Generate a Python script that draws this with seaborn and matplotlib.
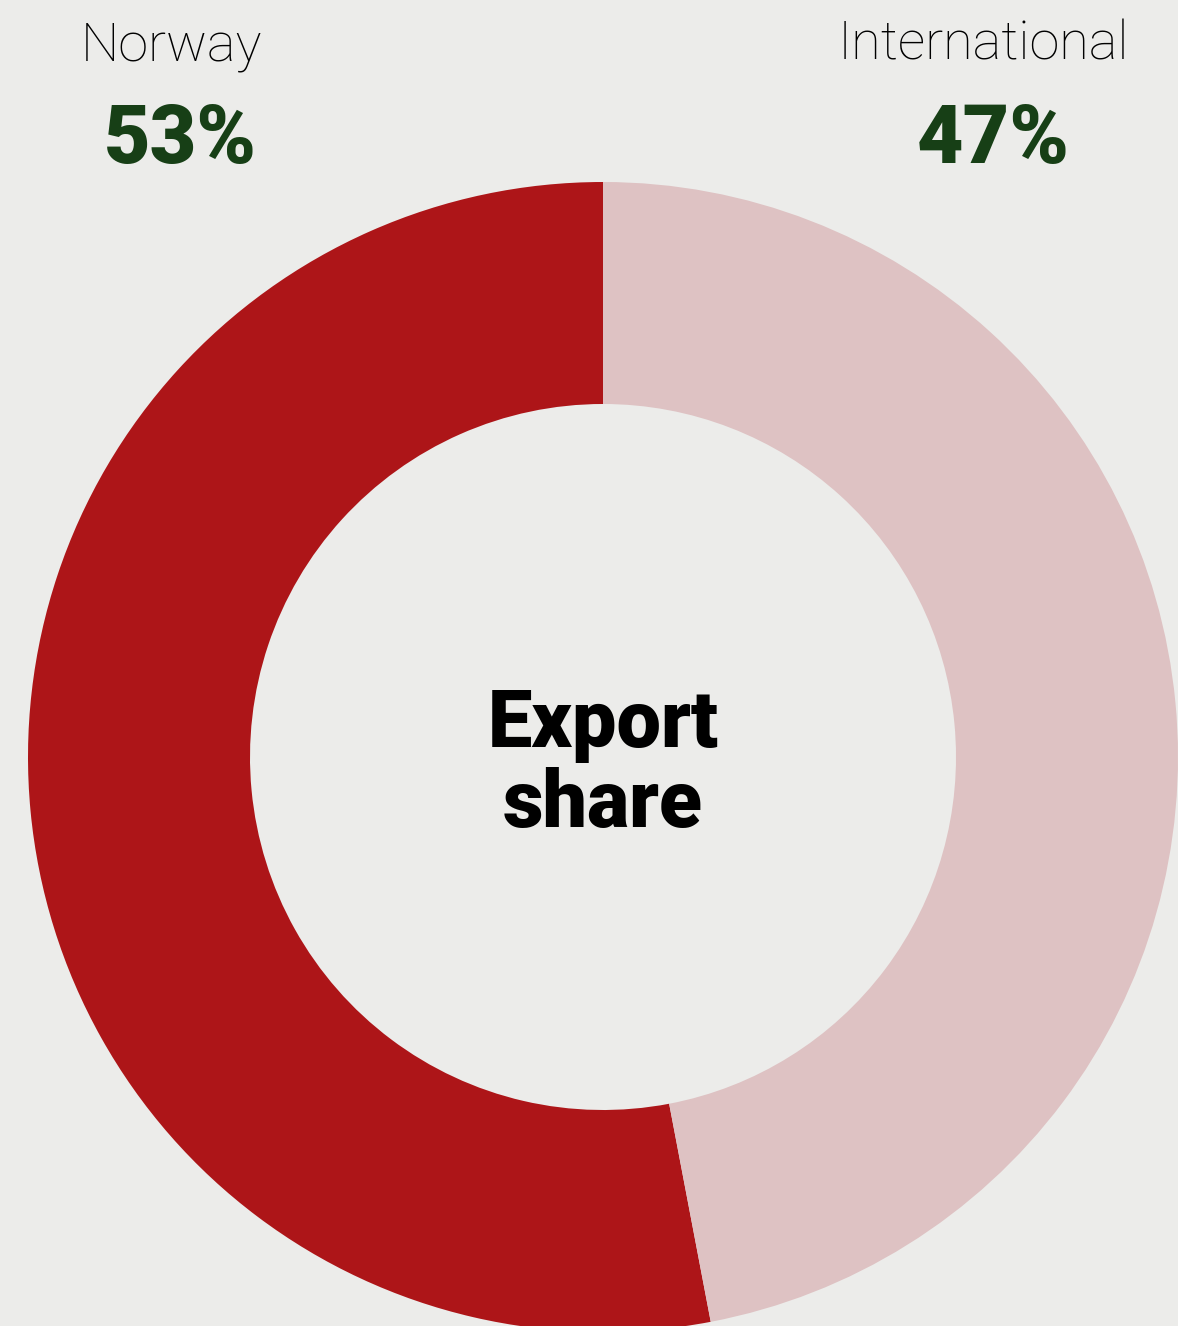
import matplotlib
matplotlib.use("Agg")
import matplotlib.pyplot as plt
import seaborn as sns

# Export share by market
categories = ["Norway", "International"]
shares = [53, 47]
share_labels = ["53%", "47%"]
centre_lines = ["Export", "share"]

BG = "#ECECEA"
RING_COLORS = ["#AD1518", "#DEC2C3"]
PCT_COLOR = "#173F16"

sns.set_theme(style="white")
plt.rcParams["font.family"] = ["Roboto", "DejaVu Sans"]

W, H = 1178, 1326
fig = plt.figure(figsize=(W / 100, H / 100), dpi=100, facecolor=BG)

# Donut: centre (603, 757) px, outer radius 575 px, inner radius ~353 px
cx, cy, r = 603, 757, 575
ax = fig.add_axes([(cx - r) / W, (H - cy - r) / H, 2 * r / W, 2 * r / H])
ax.set_facecolor(BG)
ax.pie(
    shares,
    colors=RING_COLORS,
    startangle=90,
    counterclock=True,
    radius=1.0,
    wedgeprops=dict(width=(575 - 353) / 575, linewidth=0),
)
ax.set_xlim(-1, 1)
ax.set_ylim(-1, 1)
ax.set_aspect("equal")
ax.axis("off")

# centre caption, one baseline per line (pixel rows 747 and 827)
for line, base_px in zip(centre_lines, [747, 827]):
    ax.text(0, (cy - base_px) / r, line, ha="center", va="baseline",
            fontsize=57, fontweight="black", color="black")

def fy(px):
    return (H - px) / H

label_x = [171, 983]
pct_x = [180, 993]
for name, pct, lx, px in zip(categories, share_labels, label_x, pct_x):
    fig.text(lx / W, fy(60), name, ha="center", va="baseline",
             fontsize=39, fontweight="light", color="black")
    fig.text(px / W, fy(163), pct, ha="center", va="baseline",
             fontsize=58, fontweight="black", color=PCT_COLOR)

fig.savefig("out.png", dpi=100, facecolor=BG)
